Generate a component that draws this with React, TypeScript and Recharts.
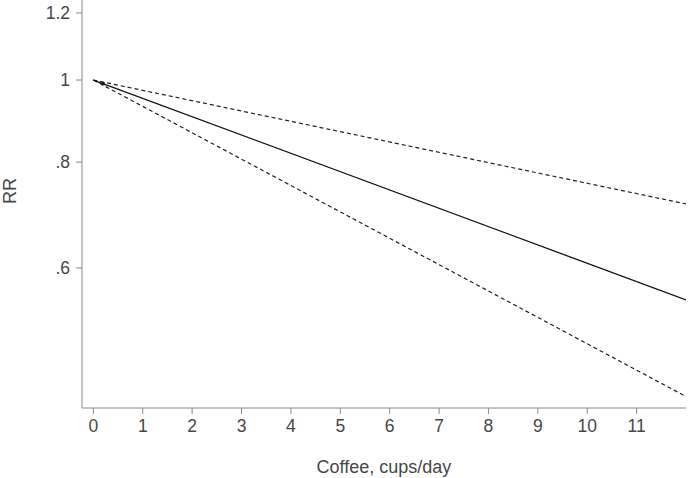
import { ComposedChart, Line, Scatter, XAxis, YAxis } from "recharts";

// coffee intake (cups/day) at the ends of each fitted line
const cups = [0, 12];
const rrMain = [1, 0.55];
const rrUpper = [1, 0.714];
const rrLower = [1, 0.423];

// small reference marker near the origin
const markCups = [0.2];
const markRR = [0.99];

const xTicks = [0, 1, 2, 3, 4, 5, 6, 7, 8, 9, 10, 11];
const yTicks = [0.6, 0.8, 1, 1.2];
const yTickLabels = [".6", ".8", "1", "1.2"];

const mainData = cups.map((c, i) => ({ x: c, y: rrMain[i] }));
const upperData = cups.map((c, i) => ({ x: c, y: rrUpper[i] }));
const lowerData = cups.map((c, i) => ({ x: c, y: rrLower[i] }));
const markData = markCups.map((c, i) => ({ x: c, y: markRR[i] }));

const axisColor = "#8a8a8a";
const textColor = "#474747";
const font = "'Liberation Sans', Arial, sans-serif";

export default function App() {
  return (
    <div style={{ position: "absolute", left: 0, top: 0, width: 700, height: 478, background: "#fff" }}>
      <style>{"body{margin:0;overflow:hidden}"}</style>
      <ComposedChart
        width={700}
        height={478}
        margin={{ top: 0, right: 14, left: 0, bottom: 0 }}
        style={{ fontFamily: font }}
      >
        <XAxis
          type="number"
          dataKey="x"
          domain={[-0.23, 12]}
          allowDataOverflow
          ticks={xTicks}
          interval={0}
          height={70}
          stroke={axisColor}
          tickSize={6}
          tickMargin={6}
          tick={{ fill: textColor, fontSize: 17.5 }}
          label={{
            value: "Coffee, cups/day",
            position: "insideBottom",
            offset: 5,
            fill: textColor,
            fontSize: 18,
          }}
        />
        <YAxis
          type="number"
          dataKey="y"
          scale="log"
          domain={[0.41, 1.243]}
          allowDataOverflow
          ticks={yTicks}
          interval={0}
          width={82}
          stroke={axisColor}
          tickSize={6}
          tickMargin={6}
          tick={{ fill: textColor, fontSize: 17.5 }}
          tickFormatter={(v: number) => yTickLabels[yTicks.indexOf(v)] ?? String(v)}
          label={{
            value: "RR",
            angle: -90,
            position: "insideLeft",
            offset: 10,
            fill: textColor,
            fontSize: 18,
          }}
        />
        <Line
          data={upperData}
          dataKey="y"
          type="linear"
          stroke="#222"
          strokeWidth={1.2}
          strokeDasharray="4 3"
          dot={false}
          isAnimationActive={false}
        />
        <Line
          data={lowerData}
          dataKey="y"
          type="linear"
          stroke="#222"
          strokeWidth={1.2}
          strokeDasharray="4 3"
          dot={false}
          isAnimationActive={false}
        />
        <Line
          data={mainData}
          dataKey="y"
          type="linear"
          stroke="#111"
          strokeWidth={1.3}
          dot={false}
          isAnimationActive={false}
        />
        <Scatter
          data={markData}
          dataKey="y"
          fill="#111"
          isAnimationActive={false}
          shape={(p: any) => <rect x={p.cx - 1.5} y={p.cy - 1.5} width={3} height={3} fill="#111" />}
        />
      </ComposedChart>
    </div>
  );
}
